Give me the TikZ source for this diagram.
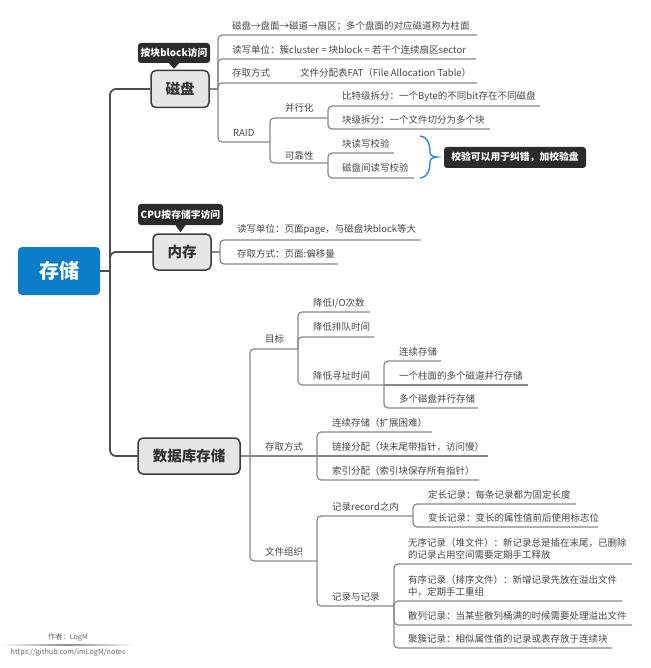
\documentclass[tikz,border=0pt]{standalone}
\usepackage{fontspec}
\setmainfont{Noto Sans CJK SC}
\definecolor{txt}{HTML}{474747}
\definecolor{ln}{HTML}{888888}
\definecolor{trk}{HTML}{4D4D4D}
\definecolor{boxfill}{HTML}{E6E6E6}
\definecolor{boxline}{HTML}{3C3C3C}
\definecolor{rootblue}{HTML}{0A7CC8}
\definecolor{darkbox}{HTML}{2B2B2B}
\definecolor{braceblue}{HTML}{2B8BD8}
\newcommand\lblfs{\fontsize{9.5}{12}\selectfont}
\tikzset{
  lbl/.style={anchor=west, inner sep=0pt, font=\lblfs, text=txt},
  lbltwo/.style={lbl, align=left},
  br/.style={draw=ln, line width=1.2pt, rounded corners=4pt},
  trunk/.style={draw=trk, line width=1.8pt, rounded corners=6pt},
  mainbox/.style={draw=boxline, fill=boxfill, line width=1.5pt, rounded corners=5pt,
    font=\fontsize{14.5}{16}\selectfont\bfseries, text=black!80, inner sep=0pt},
  rootbox/.style={fill=rootblue, rounded corners=4pt, font=\fontsize{20}{22}\selectfont\bfseries,
    text=white, inner sep=0pt, minimum width=82pt, minimum height=48pt},
  callout/.style={fill=darkbox, rounded corners=3pt, font=\fontsize{9.8}{11}\selectfont\bfseries,
    text=white, inner sep=0pt},
  bracestyle/.style={draw=braceblue, line width=1.4pt},
  foot/.style={inner sep=0pt, font=\fontsize{7.2}{8}\selectfont, text=black!60}
}
\begin{document}
\begin{tikzpicture}[x=1pt,y=-1pt]
\useasboundingbox[fill=white] (0,0) rectangle (650,668);

% ---- root and main boxes
\node[rootbox] (root) at (59,271) {存储};
\node[mainbox, minimum width=58pt, minimum height=37pt] (disk) at (180,89) {磁盘};
\node[mainbox, minimum width=58pt, minimum height=36pt] (mem) at (182,252) {内存};
\node[mainbox, minimum width=102pt, minimum height=36pt] (db) at (189,456) {数据库存储};

% ---- callouts
\node[callout, minimum width=72pt, minimum height=20pt] (c1) at (174,53) {按块block访问};
\fill[darkbox] ([xshift=-5pt]c1.south) -- ([xshift=5pt]c1.south) -- ([yshift=1pt]c1.south |- disk.north) -- cycle;
\node[callout, minimum width=85pt, minimum height=21pt] (c2) at (180.5,214.5) {CPU按存储字访问};
\fill[darkbox] ([xshift=-5pt]c2.south) -- ([xshift=5pt]c2.south) -- ([yshift=1pt]c2.south |- mem.north) -- cycle;
\node[callout, minimum width=142pt, minimum height=21pt] (c3) at (515,157.5) {校验可以用于纠错，加校验盘};

% ---- trunk
\coordinate (T) at (110,271);
\draw[trunk, rounded corners=0pt] (root.east) -- (T);
\draw[trunk] (disk.west) -| (T) |- (db.west);
\draw[trunk] (T) |- (mem.west);

% ---- disk branch
\coordinate (jd) at (218,89);
\draw[br] (disk.east) -- (jd);
\node[lbl] (d1) at (232,26) {磁盘→盘面→磁道→扇区；多个盘面的对应磁道称为柱面};
\node[lbl] (d2) at (232,50) {读写单位：簇cluster = 块block = 若干个连续扇区sector};
\node[lbl] (d3) at (232,73) {存取方式};
\node[lbl] (d3a) at (300,73) {文件分配表FAT（File Allocation Table）};
\node[lbl] (d4) at (233,133) {RAID};
\draw[br] (jd) |- (477,35);
\draw[br] (jd) |- (476,59);
\draw[br] (jd) |- (477,83);
\coordinate (jr) at (270,142);
\draw[br] (jd) |- (jr);
\node[lbl] (r1) at (285,108) {并行化};
\node[lbl] (r2) at (285,156) {可靠性};
\coordinate (jp) at (328,118);
\coordinate (jk) at (328,163);
\draw[br] (jr) |- (jp);
\draw[br] (jr) |- (jk);
\node[lbl] (p1) at (342,97) {比特级拆分：一个Byte的不同bit存在不同磁盘};
\node[lbl] (p2) at (342,120) {块级拆分：一个文件切分为多个块};
\draw[br] (jp) |- (540,106);
\draw[br] (jp) |- (490,129);
\node[lbl] (k1) at (342,144) {块读写校验};
\node[lbl] (k2) at (342,168) {磁盘间读写校验};
\draw[br] (jk) |- (394,153);
\draw[br] (jk) |- (414,178);
% brace
\draw[bracestyle] (420,136) .. controls (429,137) and (430,146) .. (430,152)
  .. controls (430,155) and (433,157) .. (437,157)
  .. controls (433,157) and (430,159) .. (430,162)
  .. controls (430,168) and (429,177) .. (420,178);

% ---- memory branch
\coordinate (jm) at (220,252);
\draw[br] (mem.east) -- (jm);
\node[lbl] (m1) at (237,230) {读写单位：页面page，与磁盘块block等大};
\node[lbl] (m2) at (237,254) {存取方式：页面:偏移量};
\draw[br] (jm) |- (421,240);
\draw[br] (jm) |- (338,264);

% ---- database branch
\coordinate (jdb) at (250,456);
\draw[br] (db.east) -- (jdb);
\node[lbl] (g) at (265,339) {目标};
\node[lbl] (a) at (265,447) {存取方式};
\node[lbl] (f) at (265,552) {文件组织};
\coordinate (jg) at (298,349);
\coordinate (ja) at (317,456);
\coordinate (jf) at (317,561);
\draw[br] (jdb) |- (jg);
\draw[br] (jdb) -- (ja);
\draw[br] (jdb) |- (jf);
% goal
\node[lbl] (g1) at (313,303) {降低I/O次数};
\node[lbl] (g2) at (313,327) {降低排队时间};
\node[lbl] (g3) at (313,376) {降低寻址时间};
\coordinate (jg3) at (384,385);
\draw[br] (jg) |- (370,312);
\draw[br] (jg) |- (374,337);
\draw[br] (jg) |- (jg3);
\node[lbl] (g31) at (399,352) {连续存储};
\node[lbl] (g32) at (399,376) {一个柱面的多个磁道并行存储};
\node[lbl] (g33) at (399,399) {多个磁盘并行存储};
\draw[br] (jg3) |- (441,361);
\draw[br] (jg3) -- (528,385);
\draw[br] (jg3) |- (478,408);
% access
\node[lbl] (a1) at (332,423) {连续存储（扩展困难）};
\node[lbl] (a2) at (332,447) {链接分配（块末尾带指针，访问慢）};
\node[lbl] (a3) at (332,471) {索引分配（索引块保存所有指针）};
\draw[br] (ja) |- (432,432);
\draw[br] (ja) -- (488,456);
\draw[br] (ja) |- (479,480);
% file organisation
\node[lbl] (f1) at (332,507) {记录record之内};
\node[lbl] (f2) at (332,597) {记录与记录};
\coordinate (jf1) at (413,516);
\coordinate (jf2) at (394,606);
\draw[br] (jf) |- (jf1);
\draw[br] (jf) |- (jf2);
\node[lbl] (f11) at (428,495) {定长记录：每条记录都为固定长度};
\node[lbl] (f12) at (428,518) {变长记录：变长的属性值前后使用标志位};
\draw[br] (jf1) |- (576,504);
\draw[br] (jf1) |- (598,527);
\node[lbltwo] (f21) at (408,549) {无序记录（堆文件）：新记录总是插在末尾，已删除\\的记录占用空间需要定期手工释放};
\node[lbltwo] (f22) at (408,586) {有序记录（排序文件）：新增记录先放在溢出文件\\中，定期手工重组};
\node[lbl] (f23) at (408,616) {散列记录：当某些散列桶满的时候需要处理溢出文件};
\node[lbl] (f24) at (408,639) {聚簇记录：相似属性值的记录或表存放于连续块};
\draw[br] (jf2) |- (632,564);
\draw[br] (jf2) |- (622,601);
\draw[br] (jf2) |- (632,625);
\draw[br] (jf2) |- (612,648);

% ---- footer
\node[foot] (author) at (68,637) {作者：LogM};
\shade[left color=white, right color=white, middle color=black!45] (0,644.4) rectangle (136,645.6);
\node[foot] (url) at (68,653) {https://github.com/imLogM/notes};
\end{tikzpicture}
\end{document}
